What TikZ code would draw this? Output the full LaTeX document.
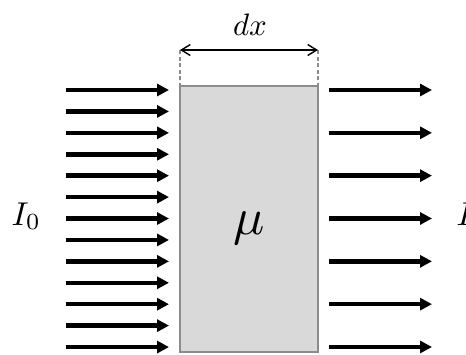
\documentclass[tikz,border=0pt]{standalone}
\usetikzlibrary{arrows.meta}
\definecolor{slabfill}{HTML}{D9D9D9}
\definecolor{slabline}{HTML}{8C8C8C}
\tikzset{
  slabbox/.style={draw=slabline, line width=2.5pt, fill=slabfill, rectangle, inner sep=0pt, outer sep=0pt},
  beam/.style={line width=4.5pt, -{Triangle[length=12pt,width=12pt]}},
  dimline/.style={line width=1.4pt, {Straight Barb[length=9pt,width=11pt]}-{Straight Barb[length=9pt,width=11pt]}},
  guide/.style={draw=slabline, line width=1.4pt, dash pattern=on 4pt off 2.5pt},
  lbl/.style={inner sep=0pt}
}
\begin{document}
\begin{tikzpicture}[x=1pt,y=-1pt]
\useasboundingbox (0,0) rectangle (466,354);
\clip (0,0) rectangle (466,354);
% slab
\node[slabbox, minimum width=138pt, minimum height=266pt, anchor=north west] (slab) at (180,86) {};
\node[lbl, scale=5.2] (mu) at (249,228) {$\mu$};
% thickness dimension
\coordinate (dxl) at (180,50);
\coordinate (dxr) at (318,50);
\draw[guide] (dxl) -- (slab.north west);
\draw[guide] (dxr) -- (slab.north east);
\draw[dimline] (dxl) -- (dxr);
\node[lbl, scale=3.1] (dx) at (250,25) {$dx$};
% incident beam
\foreach \i in {0,...,12} {
  \coordinate (ls\i) at (66,90+\i*21.42);
  \coordinate (le\i) at (169,90+\i*21.42);
  \draw[beam] (ls\i) -- (le\i);
}
% transmitted beam
\foreach \i in {0,...,6} {
  \coordinate (rs\i) at (329,90+\i*42.83);
  \coordinate (re\i) at (432,90+\i*42.83);
  \draw[beam] (rs\i) -- (re\i);
}
\node[lbl, scale=3.3, anchor=base west] (Iin) at (11,225) {$I_0$};
\node[lbl, scale=3.3, anchor=base west] (Iout) at (456,225) {$I$};
\end{tikzpicture}
\end{document}
